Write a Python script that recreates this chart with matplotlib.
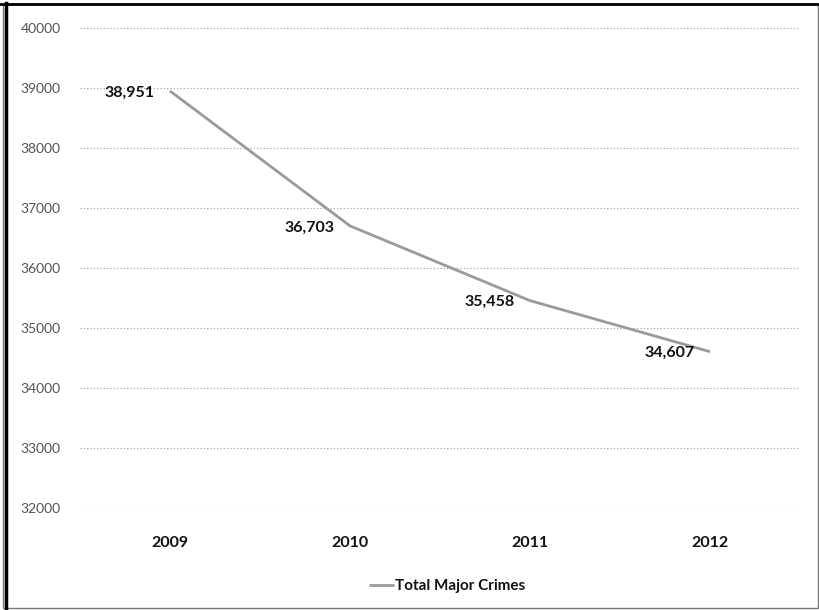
import numpy as np
import matplotlib.pyplot as plt
from matplotlib.patches import Rectangle

# data
years = ['2009', '2010', '2011', '2012']
crimes = [38951, 36703, 35458, 34607]
y_ticks = [32000, 33000, 34000, 35000, 36000, 37000, 38000, 39000, 40000]

plt.rcParams['font.family'] = ['Lato', 'DejaVu Sans']

fig = plt.figure(figsize=(8.2, 6.1), dpi=100)
ax = fig.add_axes([0.0976, 0.167, 0.878, 0.787])

x = np.arange(len(years))
ax.plot(x, crimes, color='#9a9a9a', lw=2.0, solid_capstyle='butt', label='Total Major Crimes', zorder=3)

# data labels sit to the left of each point
for xi, v in zip(x, crimes):
    ax.annotate(f'{v:,}', (xi, v), xytext=(-11, -1), textcoords='offset points',
                ha='right', va='center', fontsize=11.5, fontweight='bold', color='#111111')

ax.set_xlim(-0.5, 3.5)
ax.set_ylim(32000, 40000)
ax.set_yticks(y_ticks)
ax.set_yticklabels([str(t) for t in y_ticks], color='#555555', fontsize=10)
ax.set_xticks(x)
ax.set_xticklabels(years, fontweight='bold', fontsize=11.5, color='#111111')
ax.tick_params(axis='both', length=0)
ax.tick_params(axis='y', pad=14)
ax.tick_params(axis='x', pad=20)

ax.grid(axis='y', color='#9a9a9a', linestyle=(0, (1, 2)), lw=0.8)
ax.grid(axis='x', visible=False)
for s in ax.spines.values():
    s.set_visible(False)

leg = ax.legend(loc='upper center', bbox_to_anchor=(0.51, -0.12), frameon=False,
                handlelength=1.6, handletextpad=0.1, fontsize=11)
for t in leg.get_texts():
    t.set_fontweight('bold')
    t.set_color('#111111')

# outer frame of the scanned chart
fig.patches.append(Rectangle((0.004, 0.004), 0.993, 0.99, transform=fig.transFigure,
                             fill=False, edgecolor='#777777', lw=1.0))
fig.add_artist(plt.Line2D([0.007, 0.007], [0.0, 0.995], transform=fig.transFigure,
                          color='black', lw=2.5))
fig.add_artist(plt.Line2D([0.0, 0.997], [0.994, 0.994], transform=fig.transFigure,
                          color='black', lw=2.0))

plt.savefig('out.png', dpi=100)
